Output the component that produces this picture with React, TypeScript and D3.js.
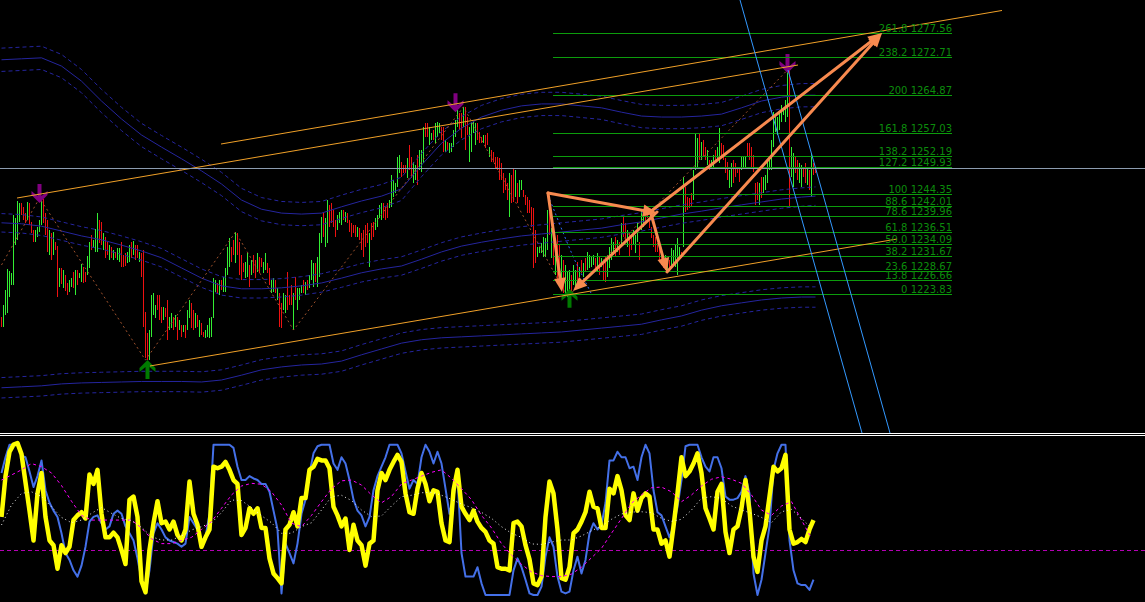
import React, { useEffect, useRef } from "react";
import * as d3 from "d3";

const W = 1145;
const H = 602;
const MAIN_H = 433;

// price bars, one per bar index 0..407
const barHigh = [
  1219.1, 1221.6, 1224.6, 1229.0, 1228.6, 1228.2, 1240.1, 1239.5, 1243.0, 1242.6,
  1242.6, 1241.8, 1240.5, 1242.8, 1242.6, 1238.7, 1237.0, 1237.0, 1237.6, 1239.1,
  1244.0, 1243.4, 1240.5, 1239.1, 1237.0, 1236.4, 1236.6, 1234.5, 1233.7, 1229.2,
  1229.2, 1228.8, 1227.7, 1226.1, 1226.7, 1227.1, 1228.4, 1228.8, 1228.8, 1228.2,
  1230.0, 1229.4, 1228.4, 1231.7, 1234.5, 1236.0, 1234.9, 1237.2, 1240.5, 1239.1,
  1238.7, 1236.4, 1235.6, 1234.5, 1233.9, 1233.5, 1232.9, 1232.5, 1233.3, 1233.3,
  1234.5, 1231.9, 1232.3, 1232.5, 1233.9, 1234.5, 1234.7, 1233.9, 1233.9, 1232.5,
  1232.3, 1232.9, 1220.1, 1215.8, 1216.4, 1223.6, 1224.0, 1221.6, 1223.6, 1223.6,
  1221.1, 1221.1, 1220.9, 1222.6, 1219.1, 1219.9, 1219.1, 1219.5, 1219.1, 1218.5,
  1217.4, 1217.4, 1217.4, 1220.5, 1222.6, 1222.0, 1220.5, 1219.9, 1219.5, 1218.5,
  1217.8, 1216.0, 1216.4, 1217.4, 1218.9, 1219.1, 1227.1, 1226.7, 1226.1, 1226.7,
  1226.7, 1227.3, 1229.2, 1233.5, 1235.4, 1233.5, 1234.9, 1236.6, 1236.4, 1234.5,
  1231.9, 1230.2, 1230.4, 1232.3, 1229.8, 1230.8, 1231.9, 1230.8, 1232.3, 1231.4,
  1231.2, 1230.4, 1232.3, 1230.2, 1229.2, 1226.7, 1227.1, 1226.7, 1225.1, 1224.0,
  1222.0, 1224.0, 1223.6, 1228.4, 1223.6, 1225.7, 1224.0, 1227.3, 1225.1, 1225.1,
  1225.7, 1226.7, 1226.3, 1226.7, 1227.7, 1230.8, 1230.2, 1230.2, 1231.4, 1236.4,
  1239.7, 1240.5, 1239.5, 1243.2, 1242.2, 1242.6, 1241.1, 1239.1, 1240.1, 1240.7,
  1241.1, 1241.1, 1240.7, 1240.5, 1239.1, 1238.5, 1238.0, 1238.0, 1237.6, 1237.4,
  1236.4, 1237.0, 1238.0, 1238.5, 1236.4, 1238.5, 1238.7, 1239.5, 1240.1, 1242.2,
  1242.6, 1242.6, 1241.8, 1242.6, 1243.2, 1248.4, 1247.3, 1246.7, 1252.1, 1252.5,
  1251.0, 1250.4, 1250.4, 1251.9, 1254.5, 1252.1, 1251.0, 1250.4, 1252.5, 1253.5,
  1253.5, 1258.2, 1259.1, 1259.1, 1258.2, 1257.0, 1257.6, 1259.1, 1259.3, 1259.1,
  1258.2, 1258.2, 1255.6, 1255.1, 1254.9, 1254.9, 1257.6, 1259.7, 1261.7, 1261.1,
  1261.1, 1262.4, 1262.4, 1260.3, 1258.2, 1259.3, 1259.3, 1259.1, 1259.1, 1257.2,
  1256.2, 1256.6, 1256.6, 1257.0, 1254.1, 1253.5, 1253.1, 1252.1, 1252.1, 1251.9,
  1250.8, 1248.8, 1247.7, 1246.7, 1248.8, 1248.4, 1249.8, 1249.4, 1246.7, 1247.3,
  1247.3, 1245.3, 1244.2, 1243.8, 1243.2, 1241.8, 1241.5, 1237.0, 1233.5, 1233.5,
  1234.3, 1235.6, 1235.4, 1241.1, 1240.7, 1237.4, 1236.0, 1234.9, 1236.0, 1233.9,
  1231.9, 1230.8, 1229.8, 1228.4, 1228.8, 1227.7, 1229.8, 1228.8, 1230.4, 1229.4,
  1230.8, 1230.2, 1231.2, 1232.5, 1231.9, 1231.4, 1231.9, 1231.2, 1232.3, 1231.4,
  1231.2, 1230.8, 1231.4, 1231.9, 1233.5, 1235.4, 1234.5, 1235.6, 1234.9, 1234.5,
  1238.5, 1239.7, 1238.5, 1237.0, 1236.6, 1235.6, 1237.0, 1236.0, 1238.5, 1234.5,
  1241.1, 1240.7, 1241.8, 1241.8, 1239.5, 1237.6, 1236.0, 1235.6, 1234.3, 1233.5,
  1232.3, 1230.4, 1231.9, 1230.2, 1230.8, 1233.3, 1232.9, 1233.9, 1235.4, 1233.5,
  1232.5, 1247.9, 1245.9, 1243.8, 1243.6, 1244.6, 1249.4, 1257.0, 1256.0, 1257.0,
  1255.1, 1255.6, 1254.1, 1253.5, 1251.4, 1251.4, 1252.5, 1253.5, 1254.1, 1258.0,
  1254.9, 1254.5, 1251.9, 1251.0, 1249.4, 1250.8, 1251.4, 1250.8, 1250.0, 1250.0,
  1252.1, 1252.1, 1252.1, 1254.9, 1254.9, 1254.1, 1252.5, 1246.7, 1246.9, 1246.7,
  1247.9, 1247.9, 1248.4, 1251.4, 1251.9, 1255.6, 1261.3, 1260.3, 1260.3, 1261.3,
  1262.8, 1262.2, 1263.8, 1270.0, 1270.0, 1254.1, 1252.9, 1252.1, 1251.4, 1250.8,
  1250.4, 1250.0, 1250.8, 1250.0, 1249.4, 1252.9, 1250.8, 1250.0,
];
const barLow = [
  1217.0, 1217.0, 1219.5, 1219.9, 1223.2, 1225.7, 1225.7, 1233.9, 1234.9, 1238.7,
  1240.1, 1239.1, 1238.5, 1239.1, 1238.0, 1236.4, 1234.5, 1234.5, 1235.6, 1236.6,
  1238.0, 1238.5, 1236.0, 1232.5, 1231.9, 1230.8, 1231.9, 1232.9, 1223.2, 1225.3,
  1225.9, 1225.1, 1224.4, 1223.6, 1224.2, 1225.3, 1225.1, 1223.6, 1225.7, 1227.1,
  1226.3, 1226.1, 1226.3, 1227.7, 1229.2, 1232.9, 1233.3, 1232.5, 1232.5, 1234.3,
  1233.9, 1232.9, 1231.2, 1231.9, 1230.8, 1231.2, 1230.8, 1231.2, 1230.8, 1230.4,
  1229.4, 1229.4, 1229.6, 1230.2, 1230.4, 1231.2, 1231.9, 1230.8, 1231.2, 1230.4,
  1227.3, 1217.0, 1210.7, 1210.2, 1210.2, 1214.9, 1219.5, 1218.9, 1220.5, 1218.5,
  1217.8, 1218.5, 1219.1, 1214.3, 1216.4, 1216.8, 1216.4, 1217.0, 1214.3, 1216.4,
  1214.9, 1216.0, 1214.7, 1216.4, 1218.9, 1216.8, 1216.4, 1216.8, 1217.0, 1214.9,
  1215.4, 1214.9, 1214.7, 1214.9, 1214.7, 1214.9, 1218.9, 1224.2, 1224.0, 1223.6,
  1224.6, 1224.2, 1224.2, 1227.7, 1229.4, 1230.4, 1231.9, 1230.2, 1231.9, 1227.7,
  1226.7, 1228.4, 1227.1, 1227.3, 1225.3, 1227.7, 1228.2, 1227.1, 1228.4, 1228.2,
  1229.4, 1228.2, 1228.8, 1228.2, 1225.7, 1224.0, 1224.2, 1224.0, 1222.6, 1217.0,
  1216.8, 1220.5, 1219.9, 1220.5, 1221.6, 1221.6, 1216.4, 1222.6, 1220.5, 1222.6,
  1224.0, 1224.0, 1223.6, 1224.6, 1225.1, 1226.7, 1225.3, 1226.3, 1225.3, 1227.3,
  1234.3, 1235.6, 1233.5, 1234.3, 1237.6, 1238.5, 1237.6, 1235.6, 1237.0, 1238.5,
  1238.0, 1239.1, 1238.7, 1238.5, 1236.6, 1235.6, 1236.4, 1235.6, 1235.6, 1234.9,
  1232.9, 1231.4, 1233.5, 1234.3, 1229.4, 1234.9, 1235.6, 1237.0, 1237.6, 1239.5,
  1239.1, 1239.5, 1239.1, 1239.5, 1241.5, 1241.8, 1243.8, 1244.6, 1245.9, 1248.8,
  1247.9, 1248.8, 1248.8, 1247.7, 1249.4, 1247.7, 1246.7, 1247.3, 1246.3, 1249.4,
  1249.0, 1250.8, 1256.2, 1256.2, 1254.5, 1255.6, 1255.6, 1254.9, 1256.2, 1257.0,
  1255.6, 1253.1, 1253.1, 1253.5, 1252.9, 1253.1, 1254.1, 1256.2, 1258.2, 1257.6,
  1256.0, 1258.2, 1253.5, 1256.6, 1251.0, 1253.1, 1257.0, 1254.5, 1255.6, 1254.9,
  1254.9, 1254.9, 1253.9, 1254.5, 1252.1, 1251.0, 1251.0, 1249.8, 1249.4, 1247.3,
  1247.3, 1244.6, 1245.3, 1243.2, 1239.7, 1242.6, 1242.8, 1243.8, 1242.6, 1243.8,
  1245.3, 1243.8, 1242.2, 1240.5, 1240.5, 1237.6, 1229.2, 1230.2, 1231.4, 1232.3,
  1232.3, 1231.4, 1231.4, 1232.9, 1236.0, 1231.2, 1229.8, 1227.7, 1226.7, 1225.7,
  1224.6, 1224.0, 1223.6, 1223.2, 1224.6, 1224.2, 1225.7, 1225.1, 1226.1, 1227.3,
  1228.2, 1227.3, 1228.4, 1228.8, 1229.2, 1229.4, 1229.8, 1229.2, 1228.4, 1227.7,
  1229.4, 1226.7, 1226.3, 1227.3, 1229.2, 1230.8, 1231.9, 1231.4, 1232.5, 1231.9,
  1233.5, 1235.6, 1234.5, 1233.5, 1231.4, 1232.9, 1233.9, 1232.3, 1234.5, 1230.8,
  1237.0, 1237.6, 1238.5, 1239.5, 1237.4, 1235.4, 1233.5, 1232.5, 1232.5, 1230.8,
  1229.8, 1229.2, 1228.8, 1228.4, 1229.2, 1229.4, 1230.2, 1229.4, 1227.7, 1231.2,
  1231.2, 1233.5, 1240.7, 1241.1, 1241.5, 1241.8, 1243.2, 1249.4, 1250.0, 1251.4,
  1251.4, 1252.1, 1251.4, 1250.4, 1249.4, 1249.8, 1250.0, 1250.8, 1251.4, 1250.8,
  1252.1, 1251.4, 1248.8, 1247.3, 1245.7, 1245.9, 1246.7, 1247.9, 1248.8, 1246.9,
  1249.4, 1250.0, 1249.8, 1252.1, 1251.4, 1250.0, 1249.0, 1242.2, 1243.2, 1242.2,
  1243.6, 1244.6, 1245.3, 1246.7, 1249.4, 1249.4, 1254.1, 1257.2, 1256.6, 1257.6,
  1259.3, 1260.7, 1259.3, 1260.3, 1241.8, 1247.9, 1245.9, 1248.8, 1247.3, 1246.7,
  1245.9, 1247.9, 1246.7, 1246.3, 1245.3, 1243.8, 1248.4, 1248.8,
];
// u = up bar (green), d = down bar (red)
const barDir =
  "duuuuuuuuu" + "ddduddduuu" + "udddududdu" + "dudduududu" + "udduuduuud" +
  "duddududuu" + "ddduududdu" + "dddduuuudd" + "dudduududu" + "duduuddudu" +
  "dduuuuuudu" + "duuuuddudd" + "dduududdud" + "duudduudud" + "duuddduduu" +
  "ududuuuduu" + "uduudddduu" + "ududddddud" + "ddddudduuu" + "uddduuuuuu" +
  "dddudduudu" + "uudduuduuu" + "dduduuuuud" + "dudduuuudd" + "dudduddddd" +
  "dddduddudu" + "uddddddduu" + "uuuudududd" + "uduuuduudu" + "duduuuudud" +
  "udduuuudud" + "uddudduuud" + "uudddddddd" + "dduuduuuuu" + "dudddduuud" +
  "udduduuduu" + "dddduudddd" + "uuuddddddu" + "duuuuuuuuu" + "uuuuduuddu" +
  "uddududd";

// envelope bands (centre price, sampled every 10 bars)
const bandBars = [0, 10, 20, 30, 40, 50, 60, 70, 80, 90, 100, 110, 120, 130, 140, 150, 160, 170, 180, 190,
  200, 210, 220, 230, 240, 250, 260, 270, 280, 290, 300, 310, 320, 330, 340, 350, 360, 370, 380, 390, 400, 407];
const bandUpper = [1272.1, 1272.3, 1272.5, 1270.8, 1267.7, 1263.6, 1259.9, 1256.6, 1254.1, 1251.7,
  1249.2, 1246.5, 1243.2, 1241.3, 1240.5, 1240.3, 1240.5, 1241.8, 1243.0, 1244.0,
  1245.5, 1250.4, 1254.9, 1258.0, 1260.3, 1261.7, 1262.6, 1263.0, 1263.0, 1262.6,
  1262.2, 1261.3, 1260.5, 1260.3, 1260.3, 1260.5, 1260.9, 1262.2, 1263.6, 1264.4, 1264.8, 1264.8];
const bandMiddle = [1238.5, 1238.3, 1237.8, 1236.8, 1235.8, 1235.0, 1233.9, 1232.7, 1231.3, 1229.2,
  1227.1, 1225.5, 1224.9, 1224.9, 1225.1, 1225.5, 1226.1, 1227.1, 1228.2, 1229.0,
  1229.6, 1231.0, 1232.5, 1233.7, 1234.5, 1235.2, 1235.8, 1236.2, 1236.6, 1237.0,
  1237.4, 1238.1, 1238.7, 1239.5, 1240.3, 1240.9, 1241.6, 1242.2, 1242.8, 1243.4, 1243.8, 1244.0];
const bandLower = [1204.5, 1204.7, 1204.9, 1205.3, 1205.5, 1205.6, 1205.7, 1205.8, 1205.8, 1205.8,
  1205.7, 1206.1, 1207.1, 1208.2, 1208.8, 1209.2, 1209.4, 1210.0, 1211.3, 1212.5,
  1213.7, 1214.4, 1214.8, 1215.0, 1215.2, 1215.4, 1215.6, 1215.8, 1216.0, 1216.4,
  1216.8, 1217.2, 1217.6, 1218.5, 1219.3, 1220.5, 1221.4, 1222.0, 1222.6, 1223.0, 1223.2, 1223.2];
const bandDev = [2.4, 1.9, 2.1];

// zigzag swing points
const zigBars = [0, 19, 72, 117, 146, 231, 283, 393];
const zigPrices = [1229.8, 1243.6, 1210.2, 1236.6, 1216.4, 1262.4, 1223.2, 1270.0];
// fractal arrows
const downArrowBars = [19, 227, 393];
const downArrowPrices = [1242.6, 1261.3, 1269.4];
const upArrowBars = [73, 284];
const upArrowPrices = [1210.2, 1224.9];
// short dotted average segment
const dotBars = [273.25, 279.25, 285.25, 290.25, 295.25];
const dotPrices = [1244.2, 1238.05, 1231.9, 1227.74, 1223.6];

// fibonacci expansion
const fibLevelText = ["0", "13.8", "23.6", "38.2", "50.0", "61.8", "78.6", "88.6", "100", "127.2", "138.2", "161.8", "200", "238.2", "261.8"];
const fibPrices = [1223.83, 1226.66, 1228.67, 1231.67, 1234.09, 1236.51, 1239.96, 1242.01, 1244.35, 1249.93, 1252.19, 1257.03, 1264.87, 1272.71, 1277.56];
const fibFromBar = 275.75;
const fibToBar = 475.25;

// trend lines: [bar1, price1, bar2, price2]
const channelLines = [
  [109.75, 1254.74, 500.25, 1282.26],
  [7.75, 1243.61, 398.25, 1271.02],
  [74.25, 1208.99, 447.75, 1235.16],
];
const steepLines = [
  [369.25, 1284.42, 430.25, 1195.18],
  [393.25, 1269.99, 444.25, 1195.18],
];
const projArrows = [
  [273.25, 1244.64, 280.25, 1224.24],
  [273.25, 1244.64, 327.75, 1240.52],
  [324.25, 1241.14, 332.75, 1228.36],
  [327.75, 1240.73, 285.75, 1224.45],
  [324.25, 1240.73, 440.25, 1277.62],
  [332.75, 1228.36, 440.25, 1277.62],
];
const bidPrice = 1249.8;

// oscillator panel (every 2 bars for the fast lines, every 5 for the slow ones)
const oscMain = [
  51, 77, 92.5, 97, 98, 91, 73, 55, 36, 66,
  79, 51, 36, 33, 18, 33, 28, 32, 49, 52,
  54, 50, 78, 72, 81, 53, 38, 38, 41, 38,
  30, 21, 62, 64, 51, 10, 3, 30, 47, 61,
  47, 48, 43, 48, 39.5, 36, 43, 73.5, 53, 46,
  32, 38, 43, 83, 82, 83, 86, 81, 74.5, 72,
  39.5, 44, 56.5, 53, 56.5, 44, 44, 24.6, 15, 12,
  8.7, 43, 46, 54, 45, 63, 63, 81, 83, 88,
  87, 87, 82, 57.5, 52, 45, 50, 30, 46, 36,
  33, 20, 34, 36, 68, 79, 74.5, 81, 86, 90.5,
  86, 66, 54, 53, 69, 79, 72, 61, 68, 67,
  47, 36, 35, 68, 81, 57.5, 53, 49, 55, 48,
  44, 41.5, 36, 34, 19, 18, 18, 17, 47, 48,
  45, 33, 24, 8.7, 7.6, 13, 51, 73.5, 66, 43,
  12, 11, 19, 40.6, 43, 48, 54, 67, 57.5, 56.5,
  44, 44, 69, 66, 77, 68, 52, 49, 66, 55,
  63, 66, 64, 43, 43, 34, 36, 25.7, 45, 66,
  89, 77, 80, 85, 91.5, 79, 56.5, 50, 43, 67,
  72, 41.5, 28, 43, 45, 56.5, 74.5, 55, 25.7, 16,
  36, 45, 64, 83, 80, 82, 90.5, 43, 34, 35,
  37, 35, 43, 49,
];
const oscRaw = [
  79, 89, 97, 97, 97, 90, 89, 80, 70, 77,
  87, 68, 60, 55, 51, 40.6, 28, 23.6, 17, 13,
  20, 32, 48, 51, 52, 47, 43, 45, 53, 55,
  53, 45, 40.6, 36, 24.6, 11, 2.3, 17, 40.6, 47,
  43, 38, 36, 35, 34, 32, 34, 51, 47, 43,
  36, 38, 53, 97, 97, 97, 97, 97, 95, 83,
  74.5, 74.5, 77, 75.5, 74.5, 72, 72, 67, 55, 43,
  2.3, 34, 28, 21.4, 34, 53, 62, 79, 91.5, 96,
  97, 97, 97, 85, 81, 89, 85, 74.5, 62, 55,
  52, 45, 51, 68, 77, 83, 89, 97, 97, 97,
  91.5, 80, 69, 74.5, 72, 89, 97, 92.5, 85, 92.5,
  85, 69, 53, 64, 77, 28, 13, 13, 13, 19,
  8.7, 1.3, 1.3, 1.3, 1.3, 1.3, 1.3, 1.3, 17, 24.6,
  19, 11, 2.3, 1.3, 1.3, 6.6, 25.7, 38, 32, 13,
  3.4, 2.3, 3.4, 17, 25.7, 15, 23.6, 40.6, 47, 43,
  46, 60, 87, 87, 92.5, 89, 89, 82, 83, 74.5,
  89, 97, 91.5, 68, 54, 52, 45, 38, 45, 57.5,
  74.5, 96, 97, 97, 97, 89, 83, 80, 89, 89,
  82, 64, 62, 62, 63, 67, 77, 66, 15, 1.3,
  11, 28, 45, 81, 91.5, 97, 97, 36, 17, 8.7,
  7.6, 7.6, 4.5, 11,
];
const oscSignal = [
  74.5, 77.7, 81, 85, 83, 79, 71, 61, 52, 49,
  49, 49, 49, 49, 44, 37, 34, 34, 36, 38,
  43, 48, 56.5, 65, 70.7, 72.4, 71.8, 67, 58.6, 47,
  44.8, 52, 60.7, 69, 74, 74.5, 71.3, 65, 60, 64,
  72, 74.5, 77, 79.4, 81, 75.6, 69, 62, 52, 44,
  34, 26.7, 20.8, 16, 13.6, 13, 13, 14.6, 19, 25,
  31, 40.6, 50, 59.7, 65, 69.6, 70, 67, 60.7, 65,
  70.7, 75, 76.6, 75, 72.4, 65, 55.4, 52, 58, 60.7,
  49, 37.4,
];
const oscSlow = [
  45.9, 58.6, 66, 67, 64, 57.5, 50.7, 47.3, 49, 53.3,
  57, 53.3, 50, 48.6, 44.4, 38.4, 36.3, 36.3, 38.9, 42.7,
  44.8, 47.3, 53.7, 61.8, 61.4, 57, 51.8, 47.3, 40.6, 40.6,
  44.8, 47.3, 55.4, 63.9, 64.8, 61.4, 55.4, 51.2, 51.6, 58,
  63.9, 64.8, 66.4, 66.7, 64.8, 62.2, 59.2, 56.9, 53.9, 50.1,
  44.8, 40.6, 38, 33.8, 33.5, 35, 36.3, 36.3, 38.9, 42.2,
  45.2, 49.5, 52.9, 54.1, 54.3, 53.7, 50.1, 48.2, 49.5, 55.4,
  63, 63.9, 62.8, 58, 55.4, 53.3, 50.7, 47.3, 54.3, 55.8,
  50.1, 43.7,
];
const oscLevel = 30;

const App: React.FC = () => {
  const svgRef = useRef<SVGSVGElement>(null);

  useEffect(() => {
    if (!svgRef.current) return;
    const svg = d3.select(svgRef.current);
    svg.selectAll("*").remove();

    const x = d3.scaleLinear().domain([0, 407]).range([1.5, 815.5]);
    const y = d3.scaleLinear().domain([1195.18, 1284.42]).range([MAIN_H, 0]);
    const yo = d3.scaleLinear().domain([0, 100]).range([597, 440]);

    svg.append("rect").attr("width", W).attr("height", H).attr("fill", "#000");

    const defs = svg.append("defs");
    defs.append("clipPath").attr("id", "mainClip")
      .append("rect").attr("width", W).attr("height", MAIN_H);
    defs.append("clipPath").attr("id", "oscClip")
      .append("rect").attr("y", 437).attr("width", W).attr("height", H - 437);

    const main = svg.append("g").attr("clip-path", "url(#mainClip)");

    // bars as 1px wide rects so they stay crisp
    main.append("g")
      .attr("shape-rendering", "crispEdges")
      .selectAll("rect")
      .data(barHigh)
      .join("rect")
      .attr("x", (_, i) => Math.round(x(i) - 0.5))
      .attr("width", 1)
      .attr("y", d => Math.round(y(d)))
      .attr("height", (d, i) => Math.max(1, Math.round(y(barLow[i])) - Math.round(y(d))))
      .attr("fill", (_, i) => (barDir[i] === "u" ? "#33ee33" : "#ee1111"));

    // envelope bands
    const bandLine = d3.line<number>().x((_, i) => x(bandBars[i])).y(v => y(v));
    [bandUpper, bandMiddle, bandLower].forEach((mid, b) => {
      main.append("path").attr("d", bandLine(mid))
        .attr("fill", "none").attr("stroke", "#25259e").attr("stroke-width", 1);
      [1, -1].forEach(s => {
        main.append("path").attr("d", bandLine(mid.map(v => v + s * bandDev[b])))
          .attr("fill", "none").attr("stroke", "#25259e").attr("stroke-width", 1)
          .attr("stroke-dasharray", "4 3");
      });
    });

    // zigzag
    const zz = d3.line<number>().x((_, i) => x(zigBars[i])).y(v => y(v));
    main.append("path").attr("d", zz(zigPrices))
      .attr("fill", "none").attr("stroke", "#a0522d").attr("stroke-width", 1)
      .attr("stroke-dasharray", "2 3");

    const dl = d3.line<number>().x((_, i) => x(dotBars[i])).y(v => y(v)).curve(d3.curveBasis);
    main.append("path").attr("d", dl(dotPrices))
      .attr("fill", "none").attr("stroke", "#2f6cff").attr("stroke-width", 1)
      .attr("stroke-dasharray", "2 3");

    // fractal arrows
    const downShape = [[0, 0], [-8, -8], [-8, -12], [-2, -7], [-2, -19], [2, -19], [2, -7], [8, -12], [8, -8]];
    downArrowBars.forEach((b, i) => {
      const cx = x(b), cy = y(downArrowPrices[i]);
      main.append("polygon")
        .attr("points", downShape.map(p => `${cx + p[0]},${cy + p[1]}`).join(" "))
        .attr("fill", "#800080");
    });
    upArrowBars.forEach((b, i) => {
      const cx = x(b), cy = y(upArrowPrices[i]);
      main.append("polygon")
        .attr("points", downShape.map(p => `${cx + p[0]},${cy - p[1]}`).join(" "))
        .attr("fill", "#007a00");
    });

    // fibonacci levels
    fibPrices.forEach(p => {
      const yy = Math.round(y(p));
      main.append("rect")
        .attr("x", Math.round(x(fibFromBar))).attr("width", Math.round(x(fibToBar) - x(fibFromBar)))
        .attr("y", yy).attr("height", 1)
        .attr("fill", "#0c9c0c").attr("shape-rendering", "crispEdges");
    });

    // trend channel
    channelLines.forEach(([b1, p1, b2, p2]) => {
      main.append("line")
        .attr("x1", x(b1)).attr("y1", y(p1)).attr("x2", x(b2)).attr("y2", y(p2))
        .attr("stroke", "#f0a028").attr("stroke-width", 1);
    });

    steepLines.forEach(([b1, p1, b2, p2]) => {
      main.append("line")
        .attr("x1", x(b1)).attr("y1", y(p1)).attr("x2", x(b2)).attr("y2", y(p2))
        .attr("stroke", "#3399ff").attr("stroke-width", 1);
    });

    // bid line
    main.append("rect").attr("x", 0).attr("width", W).attr("y", Math.round(y(bidPrice))).attr("height", 1)
      .attr("fill", "#8c9cb0").attr("shape-rendering", "crispEdges");

    // projection arrows
    projArrows.forEach(([b1, p1, b2, p2]) => {
      const x1 = x(b1), y1 = y(p1), x2 = x(b2), y2 = y(p2);
      const a = Math.atan2(y2 - y1, x2 - x1);
      const len = 14, hw = 6;
      const bx = x2 - len * Math.cos(a), bY = y2 - len * Math.sin(a);
      main.append("line")
        .attr("x1", x1).attr("y1", y1)
        .attr("x2", bx + 3 * Math.cos(a)).attr("y2", bY + 3 * Math.sin(a))
        .attr("stroke", "#f88a4f").attr("stroke-width", 3).attr("stroke-linecap", "round");
      main.append("path")
        .attr("d", `M${x2},${y2}L${bx - hw * Math.sin(a)},${bY + hw * Math.cos(a)}L${bx + hw * Math.sin(a)},${bY - hw * Math.cos(a)}Z`)
        .attr("fill", "#f88a4f");
    });

    // fib labels
    fibPrices.forEach((p, i) => {
      main.append("text")
        .attr("x", x(fibToBar))
        .attr("y", Math.round(y(p)) - 1.5)
        .attr("text-anchor", "end")
        .attr("fill", "#0c8c0c")
        .style("font-family", "'DejaVu Sans', sans-serif")
        .style("font-size", "10px")
        .text(`${fibLevelText[i]} ${p.toFixed(2)}`);
    });

    // separator
    [433, 435].forEach(v => {
      svg.append("rect").attr("x", 0).attr("width", W).attr("y", v).attr("height", 1)
        .attr("fill", "#ffffff").attr("shape-rendering", "crispEdges");
    });

    // oscillator
    const osc = svg.append("g").attr("clip-path", "url(#oscClip)");
    const ly = Math.round(yo(oscLevel)) + 0.5;
    osc.append("line").attr("x1", 0).attr("x2", W).attr("y1", ly).attr("y2", ly)
      .attr("stroke", "#b400b4").attr("stroke-width", 1).attr("stroke-dasharray", "4 3");

    const fast = d3.line<number>().x((_, i) => x(i * 2)).y(v => yo(v));
    const slow = d3.line<number>().x((_, i) => x(i * 5)).y(v => yo(v));

    osc.append("path").attr("d", fast(oscRaw))
      .attr("fill", "none").attr("stroke", "#4470e8").attr("stroke-width", 2)
      .attr("stroke-linejoin", "round");
    osc.append("path").attr("d", fast(oscMain))
      .attr("fill", "none").attr("stroke", "#ffff00").attr("stroke-width", 4.5)
      .attr("stroke-linejoin", "round");
    osc.append("path").attr("d", slow(oscSignal))
      .attr("fill", "none").attr("stroke", "#ff00ff").attr("stroke-width", 1)
      .attr("stroke-dasharray", "3 3");
    osc.append("path").attr("d", slow(oscSlow))
      .attr("fill", "none").attr("stroke", "#f0f0f0").attr("stroke-width", 1)
      .attr("stroke-dasharray", "1 3");
  }, []);

  return (
    <svg
      ref={svgRef}
      width={W}
      height={H}
      style={{ position: "absolute", left: 0, top: 0, display: "block", background: "#000" }}
    />
  );
};

export default App;
